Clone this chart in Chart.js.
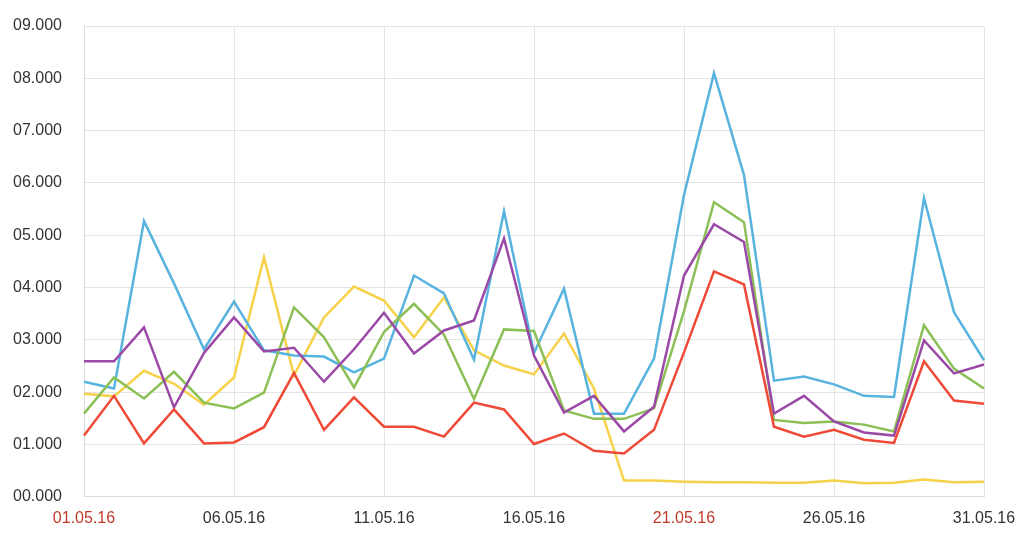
<!DOCTYPE html>
<html>
<head>
<meta charset="utf-8">
<script src="https://cdn.jsdelivr.net/npm/chart.js@4.4.1/dist/chart.umd.min.js"></script>
<style>
  html, body { margin: 0; padding: 0; background: #fff; }
  #wrap { width: 1024px; height: 541px; }
</style>
</head>
<body>
<div id="wrap"><canvas id="chart" width="1024" height="541"></canvas></div>
<script>
const days = [
    "01.05.16", "02.05.16", "03.05.16", "04.05.16", "05.05.16", "06.05.16", "07.05.16",
    "08.05.16", "09.05.16", "10.05.16", "11.05.16", "12.05.16", "13.05.16", "14.05.16",
    "15.05.16", "16.05.16", "17.05.16", "18.05.16", "19.05.16", "20.05.16", "21.05.16",
    "22.05.16", "23.05.16", "24.05.16", "25.05.16", "26.05.16", "27.05.16", "28.05.16",
    "29.05.16", "30.05.16", "31.05.16",
];
const red_days = ["01.05.16", "21.05.16"];

const blue = [2.20, 2.07, 5.27, 4.08, 2.82, 3.73, 2.80, 2.70, 2.68, 2.38, 2.64, 4.23, 3.89, 2.62, 5.46, 2.75,
    3.98, 1.59, 1.59, 2.64, 5.77, 8.10, 6.15, 2.22, 2.30, 2.15, 1.93, 1.91, 5.71, 3.53, 2.61];
const green = [1.59, 2.28, 1.88, 2.39, 1.80, 1.69, 1.99, 3.62, 3.05, 2.09, 3.15, 3.69, 3.10, 1.87, 3.20, 3.17,
    1.65, 1.49, 1.49, 1.69, 3.55, 5.63, 5.25, 1.47, 1.41, 1.44, 1.38, 1.25, 3.28, 2.45, 2.07];
const purple = [2.59, 2.59, 3.24, 1.71, 2.75, 3.43, 2.78, 2.85, 2.20, 2.82, 3.52, 2.74, 3.18, 3.37, 4.94, 2.70,
    1.61, 1.93, 1.25, 1.72, 4.23, 5.21, 4.87, 1.59, 1.93, 1.44, 1.23, 1.17, 2.99, 2.36, 2.53];
const red = [1.17, 1.93, 1.02, 1.67, 1.02, 1.04, 1.33, 2.37, 1.28, 1.90, 1.34, 1.34, 1.15, 1.80, 1.67, 1.01,
    1.21, 0.88, 0.83, 1.28, 2.76, 4.31, 4.06, 1.34, 1.15, 1.28, 1.09, 1.03, 2.59, 1.84, 1.78];
const yellow = [1.97, 1.92, 2.41, 2.16, 1.76, 2.28, 4.58, 2.32, 3.43, 4.02, 3.75, 3.05, 3.81, 2.80, 2.51, 2.34,
    3.12, 2.07, 0.31, 0.31, 0.29, 0.28, 0.28, 0.27, 0.27, 0.31, 0.26, 0.27, 0.33, 0.28, 0.29];

const line = (data, color) => ({
    data: data,
    borderColor: color,
    borderWidth: 2.5,
    pointRadius: 0,
    tension: 0,
    fill: false,
});

Chart.defaults.font.family = "'Liberation Sans', Arial, sans-serif";
Chart.defaults.font.size = 16;

new Chart(document.getElementById("chart").getContext("2d"), {
    type: "line",
    data: {
        labels: days,
        datasets: [
            line(red, "#ef4a37"),
            line(purple, "#9a4aa6"),
            line(green, "#8cc056"),
            line(blue, "#58b3df"),
            line(yellow, "#f6d24b"),
        ],
    },
    options: {
        responsive: false,
        animation: false,
        layout: { padding: { top: 0, left: 13, right: 0, bottom: 1 } },
        plugins: { legend: { display: false }, tooltip: { enabled: false } },
        scales: {
            x: {
                afterFit: (scale) => {
                    scale.paddingRight = 40;
                },
                grid: {
                    color: (ctx) => (ctx.index % 5 === 0 ? "#e4e4e4" : "rgba(0,0,0,0)"),
                    drawTicks: false,
                },
                border: { color: "#dcdcdc" },
                ticks: {
                    autoSkip: false,
                    maxRotation: 0,
                    padding: 12,
                    color: (ctx) => (red_days.includes(days[ctx.index]) ? "#c0392b" : "#333"),
                    callback: (value, index) => (index % 5 === 0 ? days[index] : ""),
                },
            },
            y: {
                min: 0,
                max: 9,
                afterFit: (scale) => {
                    scale.width = 71;
                    scale.paddingTop = 26;
                },
                grid: { color: "#e4e4e4", drawTicks: false },
                border: { color: "#dcdcdc" },
                ticks: {
                    stepSize: 1,
                    padding: 22,
                    color: "#333",
                    callback: (v) => v.toFixed(3).padStart(6, "0"),
                },
            },
        },
    },
});
</script>
</body>
</html>
